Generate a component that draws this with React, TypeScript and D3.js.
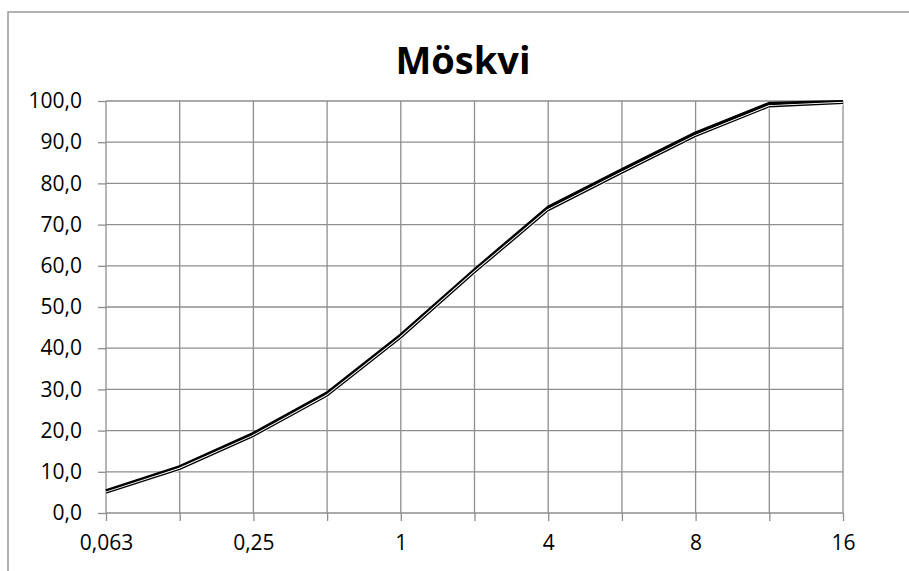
import React, { useEffect, useRef } from 'react'
import * as d3 from 'd3'

// sieve sizes (mm); only every other one gets a label on the axis
const sieves = ['0,063', '0,125', '0,25', '0,5', '1', '2', '4', '5,6', '8', '11,2', '16']
const passingA = [5.4, 11.2, 19.3, 29.1, 43.2, 59.0, 74.2, 83.3, 92.2, 99.4, 99.8]
const passingB = [4.8, 10.6, 18.6, 28.4, 42.5, 58.3, 73.4, 82.5, 91.4, 98.6, 99.4]
const yTicks = [0, 10, 20, 30, 40, 50, 60, 70, 80, 90, 100]
const title = 'Möskvi'

const width = 909
const height = 571
const left = 106
const right = 843
const top = 101
const bottom = 513
const font = "'Open Sans', Calibri, sans-serif"
const gridColor = '#8e8e8e'

const App = () => {
  const xAxisRef = useRef<SVGGElement>(null)
  const yAxisRef = useRef<SVGGElement>(null)

  const x = d3.scalePoint<string>().domain(sieves).range([left, right])
  const y = d3.scaleLinear().domain([0, 100]).range([bottom, top])
  const fmt = (v: number) => d3.format('.1f')(v).replace('.', ',')

  const line = d3
    .line<number>()
    .x((_, i) => x(sieves[i]) as number)
    .y((d) => y(d))

  useEffect(() => {
    const yAxis = d3
      .axisLeft(y)
      .tickValues(yTicks)
      .tickSize(8)
      .tickPadding(16)
      .tickFormat((d) => fmt(d as number))
    const xAxis = d3
      .axisBottom(x)
      .tickSize(8)
      .tickPadding(14)
      .tickFormat((d, i) => (i % 2 === 0 ? d : ''))

    const gy = d3.select(yAxisRef.current!).call(yAxis)
    const gx = d3.select(xAxisRef.current!).call(xAxis)
    for (const g of [gx, gy]) {
      g.select('.domain').remove()
      g.selectAll('line').attr('stroke', gridColor).attr('stroke-width', 1.3)
      g.selectAll('text')
        .attr('fill', '#000')
        .style('font-family', font)
        .style('font-size', '21px')
    }
  }, [])

  return (
    <svg
      width={width}
      height={height}
      style={{ position: 'absolute', left: 0, top: 0, background: '#fff' }}
    >
      <rect x={8} y={12} width={width + 20} height={height + 20} fill="#fff" stroke="#999" strokeWidth={1.5} />
      <text
        x={463}
        y={74}
        textAnchor="middle"
        fontFamily={font}
        fontWeight="bold"
        fontSize={38}
        fill="#000"
      >
        {title}
      </text>

      {/* grid */}
      <g stroke={gridColor} strokeWidth={1.3}>
        {yTicks.map((t) => (
          <line key={'h' + t} x1={left} x2={right} y1={y(t)} y2={y(t)} />
        ))}
        {sieves.map((s) => (
          <line key={'v' + s} x1={x(s)} x2={x(s)} y1={top} y2={bottom} />
        ))}
      </g>

      <g ref={yAxisRef} transform={`translate(${left},0)`} />
      <g ref={xAxisRef} transform={`translate(0,${bottom})`} />

      <path d={line(passingA) ?? ''} fill="none" stroke="#000" strokeWidth={3.4} strokeLinejoin="round" />
      <path d={line(passingB) ?? ''} fill="none" stroke="#fff" strokeWidth={3.2} strokeLinejoin="round" />
      <path d={line(passingB) ?? ''} fill="none" stroke="#000" strokeWidth={1.3} strokeLinejoin="round" />
    </svg>
  )
}

export default App
